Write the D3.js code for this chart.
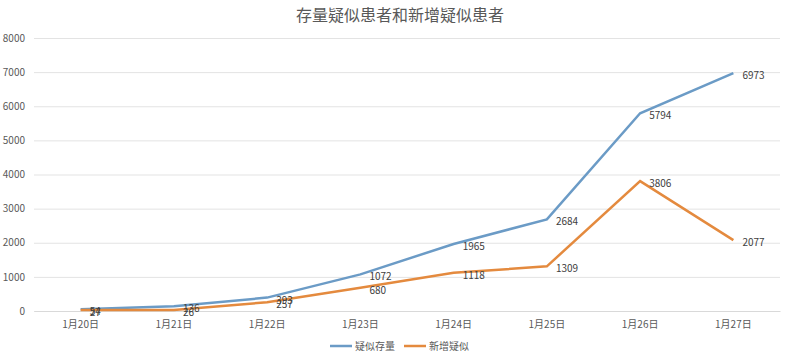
<!DOCTYPE html>
<html>
<head>
    <meta charset="utf-8">
    <style>
        body { margin: 0; background: #fff; }
        svg text { font-family: "Noto Sans CJK SC", "DejaVu Sans", sans-serif; }
        .title { fill: #595959; font-size: 16px; text-anchor: middle; }
        .tick text { fill: #595959; font-size: 10px; }
        .label { fill: #404040; font-size: 10px; }
        .legend text { fill: #595959; font-size: 10px; }
    </style>
    <script src="https://d3js.org/d3.v7.min.js"></script>
</head>
<body>
    <svg width="800" height="355"></svg>
    <script>
        var dates = ["1月20日", "1月21日", "1月22日", "1月23日", "1月24日", "1月25日", "1月26日", "1月27日"];
        var stock = [54, 136, 393, 1072, 1965, 2684, 5794, 6973];
        var added = [27, 26, 257, 680, 1118, 1309, 3806, 2077];
        var yTicks = [0, 1000, 2000, 3000, 4000, 5000, 6000, 7000, 8000];

        var series = [
            { name: "疑似存量", values: stock, color: "#6b9bc6" },
            { name: "新增疑似", values: added, color: "#e48a3e" }
        ];

        var svg = d3.select("svg");
        var plotLeft = 34, plotRight = 780, plotTop = 38, plotBottom = 311;

        var x = d3.scaleBand().domain(dates).range([plotLeft, plotRight]);
        var y = d3.scaleLinear().domain([0, 8000]).range([plotBottom, plotTop]);

        svg.append("text")
           .attr("class", "title")
           .attr("x", 400).attr("y", 21)
           .text("存量疑似患者和新增疑似患者");

        // grid + y labels
        var yAxis = svg.append("g")
            .attr("transform", "translate(" + plotLeft + ",0)")
            .call(d3.axisLeft(y).tickValues(yTicks).tickFormat(d3.format("d"))
                .tickSize(-(plotRight - plotLeft)).tickPadding(9));
        yAxis.select(".domain").remove();
        yAxis.selectAll(".tick line").attr("stroke", "#e3e3e3");

        var xAxis = svg.append("g")
            .attr("transform", "translate(0," + plotBottom + ")")
            .call(d3.axisBottom(x).tickSize(0).tickPadding(10));
        xAxis.select(".domain").attr("stroke", "#d9d9d9");

        var line = d3.line()
            .x(function(d, i) { return x(dates[i]) + x.bandwidth() / 2; })
            .y(function(d) { return y(d); });

        series.forEach(function(s) {
            svg.append("path")
               .attr("d", line(s.values))
               .attr("fill", "none")
               .attr("stroke", s.color)
               .attr("stroke-width", 2.5);
        });

        series.forEach(function(s) {
            svg.selectAll(null)
               .data(s.values)
               .enter().append("text")
               .attr("class", "label")
               .attr("x", function(d, i) { return x(dates[i]) + x.bandwidth() / 2 + 9; })
               .attr("y", function(d) { return y(d) + 6; })
               .text(function(d) { return d; });
        });

        var legend = svg.append("g").attr("class", "legend");
        var lx = [330, 404];
        series.forEach(function(s, i) {
            legend.append("line")
                  .attr("x1", lx[i]).attr("x2", lx[i] + 22)
                  .attr("y1", 346).attr("y2", 346)
                  .attr("stroke", s.color).attr("stroke-width", 2.5);
            legend.append("text")
                  .attr("x", lx[i] + 25).attr("y", 350)
                  .text(s.name);
        });
    </script>
</body>
</html>
